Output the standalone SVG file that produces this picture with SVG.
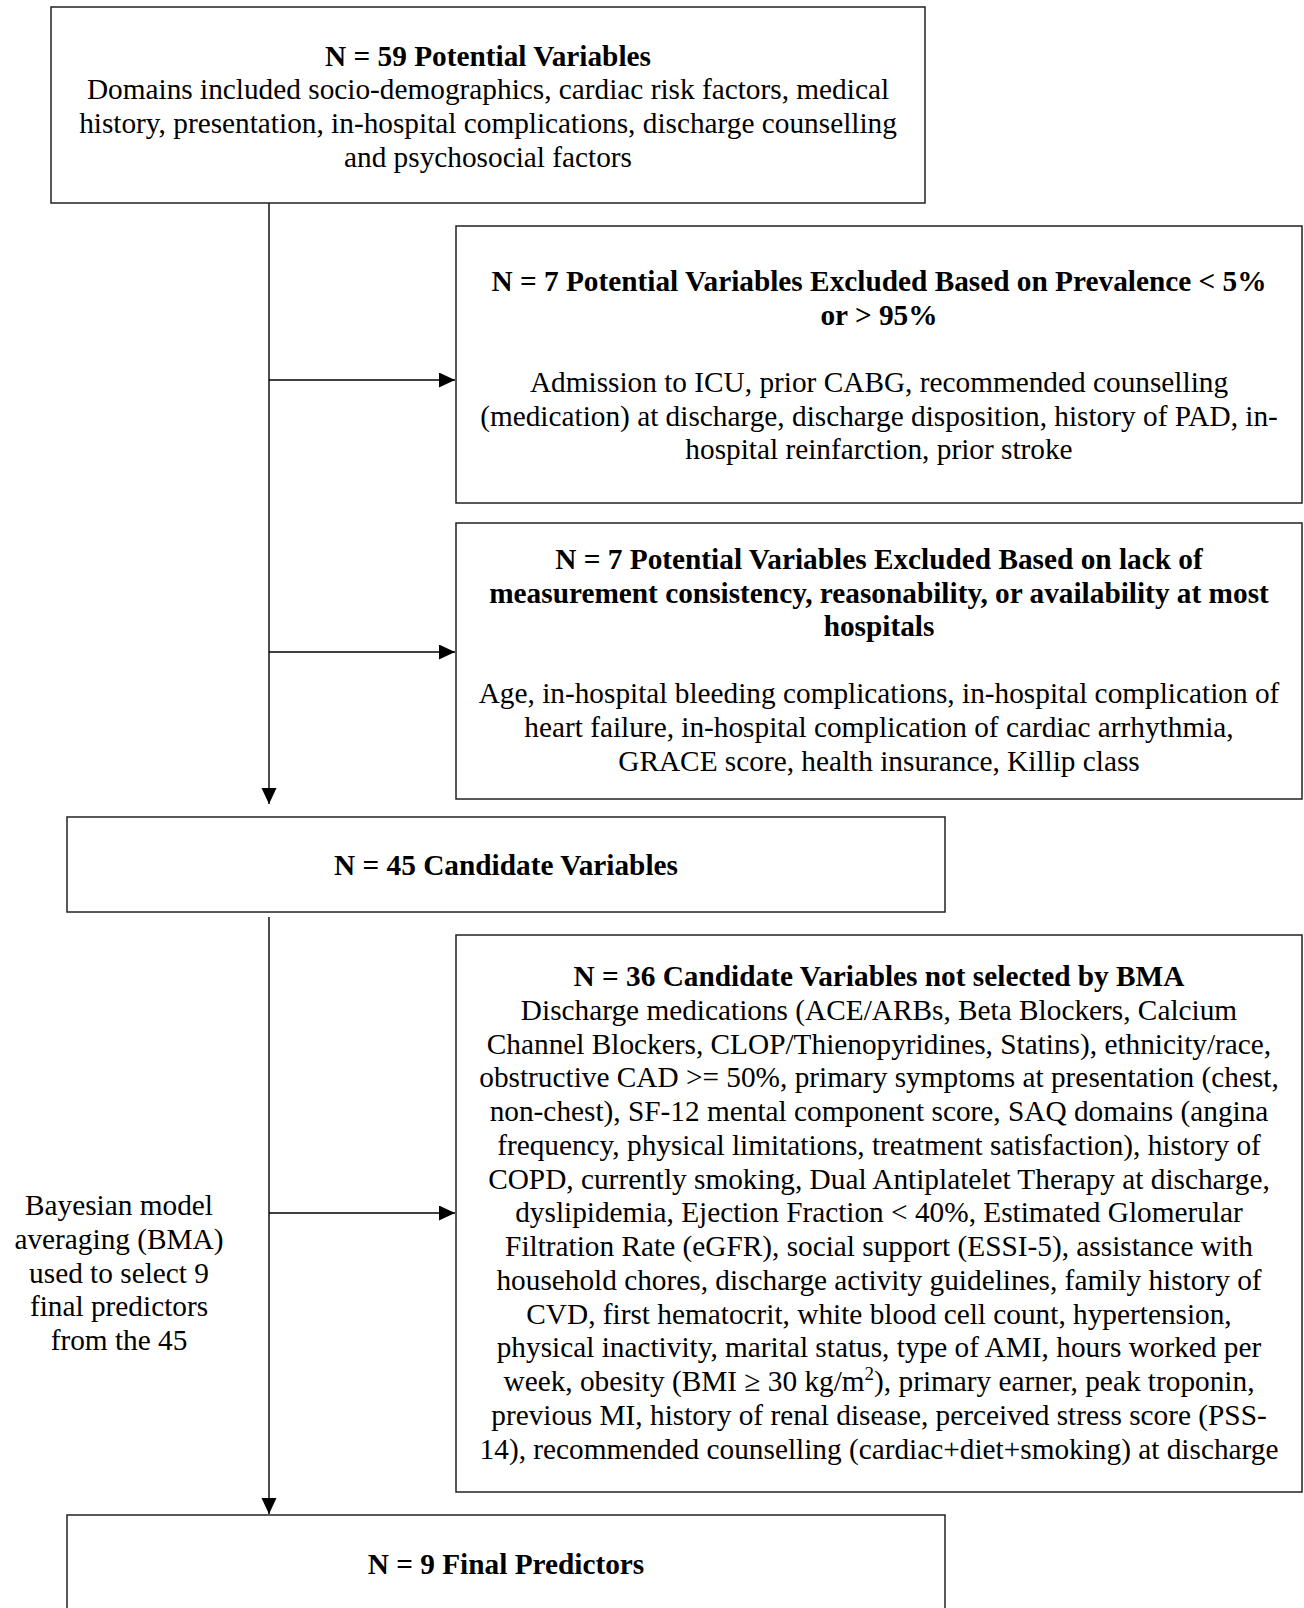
<svg xmlns="http://www.w3.org/2000/svg" width="1304" height="1608" viewBox="0 0 1304 1608">
<defs>
<marker id="ah" markerUnits="userSpaceOnUse" markerWidth="18" markerHeight="16" refX="16" refY="7.5" orient="auto">
<path d="M0,0 L16,7.5 L0,15 Z" fill="#000"/>
</marker>
<style>
.box{fill:#fff;stroke:#222;stroke-width:1.5}
.t{font-family:"Liberation Serif","Times New Roman",serif;font-size:29.3px;fill:#000;text-anchor:middle}
.b{font-weight:bold}
.conn{stroke:#000;stroke-width:1.4;fill:none}
</style>
</defs>
<rect width="1304" height="1608" fill="#fff"/>

<g id="connectors">
<line class="conn" x1="269" y1="203" x2="269" y2="804" marker-end="url(#ah)"/>
<line class="conn" x1="269" y1="380" x2="455" y2="380" marker-end="url(#ah)"/>
<line class="conn" x1="269" y1="652" x2="455" y2="652" marker-end="url(#ah)"/>
<line class="conn" x1="269" y1="917" x2="269" y2="1514" marker-end="url(#ah)"/>
<line class="conn" x1="269" y1="1213" x2="455" y2="1213" marker-end="url(#ah)"/>
</g>

<g id="node-59">
<rect class="box" x="51" y="7" width="874" height="196"/>
<text class="t b" x="488" y="66">N = 59 Potential Variables</text>
<text class="t" x="488" y="99">Domains included socio-demographics, cardiac risk factors, medical</text>
<text class="t" x="488" y="133">history, presentation, in-hospital complications, discharge counselling</text>
<text class="t" x="488" y="167">and psychosocial factors</text>
</g>

<g id="node-excl-prevalence">
<rect class="box" x="456" y="226" width="846" height="277"/>
<text class="t b" x="879" y="291">N = 7 Potential Variables Excluded Based on Prevalence &lt; 5%</text>
<text class="t b" x="879" y="325">or &gt; 95%</text>
<text class="t" x="879" y="392">Admission to ICU, prior CABG, recommended counselling</text>
<text class="t" x="879" y="426">(medication) at discharge, discharge disposition, history of PAD, in-</text>
<text class="t" x="879" y="459">hospital reinfarction, prior stroke</text>
</g>

<g id="node-excl-consistency">
<rect class="box" x="456" y="523" width="846" height="276"/>
<text class="t b" x="879" y="569">N = 7 Potential Variables Excluded Based on lack of</text>
<text class="t b" x="879" y="603">measurement consistency, reasonability, or availability at most</text>
<text class="t b" x="879" y="636">hospitals</text>
<text class="t" x="879" y="703">Age, in-hospital bleeding complications, in-hospital complication of</text>
<text class="t" x="879" y="737">heart failure, in-hospital complication of cardiac arrhythmia,</text>
<text class="t" x="879" y="771">GRACE score, health insurance, Killip class</text>
</g>

<g id="node-45">
<rect class="box" x="67" y="817" width="878" height="95"/>
<text class="t b" x="506" y="875">N = 45 Candidate Variables</text>
</g>

<g id="label-bma">
<text class="t" x="119" y="1215">Bayesian model</text>
<text class="t" x="119" y="1249">averaging (BMA)</text>
<text class="t" x="119" y="1283">used to select 9</text>
<text class="t" x="119" y="1316">final predictors</text>
<text class="t" x="119" y="1350">from the 45</text>
</g>

<g id="node-36">
<rect class="box" x="456" y="935" width="846" height="557"/>
<text class="t b" x="879" y="986">N = 36 Candidate Variables not selected by BMA</text>
<text class="t" x="879" y="1020">Discharge medications (ACE/ARBs, Beta Blockers, Calcium</text>
<text class="t" x="879" y="1054">Channel Blockers, CLOP/Thienopyridines, Statins), ethnicity/race,</text>
<text class="t" x="879" y="1087">obstructive CAD &gt;= 50%, primary symptoms at presentation (chest,</text>
<text class="t" x="879" y="1121">non-chest), SF-12 mental component score, SAQ domains (angina</text>
<text class="t" x="879" y="1155">frequency, physical limitations, treatment satisfaction), history of</text>
<text class="t" x="879" y="1189">COPD, currently smoking, Dual Antiplatelet Therapy at discharge,</text>
<text class="t" x="879" y="1222">dyslipidemia, Ejection Fraction &lt; 40%, Estimated Glomerular</text>
<text class="t" x="879" y="1256">Filtration Rate (eGFR), social support (ESSI-5), assistance with</text>
<text class="t" x="879" y="1290">household chores, discharge activity guidelines, family history of</text>
<text class="t" x="879" y="1324">CVD, first hematocrit, white blood cell count, hypertension,</text>
<text class="t" x="879" y="1357">physical inactivity, marital status, type of AMI, hours worked per</text>
<text class="t" x="879" y="1391">week, obesity (BMI ≥ 30 kg/m<tspan dy="-11" font-size="19">2</tspan><tspan dy="11">), primary earner, peak troponin,</tspan></text>
<text class="t" x="879" y="1425">previous MI, history of renal disease, perceived stress score (PSS-</text>
<text class="t" x="879" y="1459">14), recommended counselling (cardiac+diet+smoking) at discharge</text>
</g>

<g id="node-9">
<rect class="box" x="67" y="1515" width="878" height="110"/>
<text class="t b" x="506" y="1574">N = 9 Final Predictors</text>
</g>
</svg>
